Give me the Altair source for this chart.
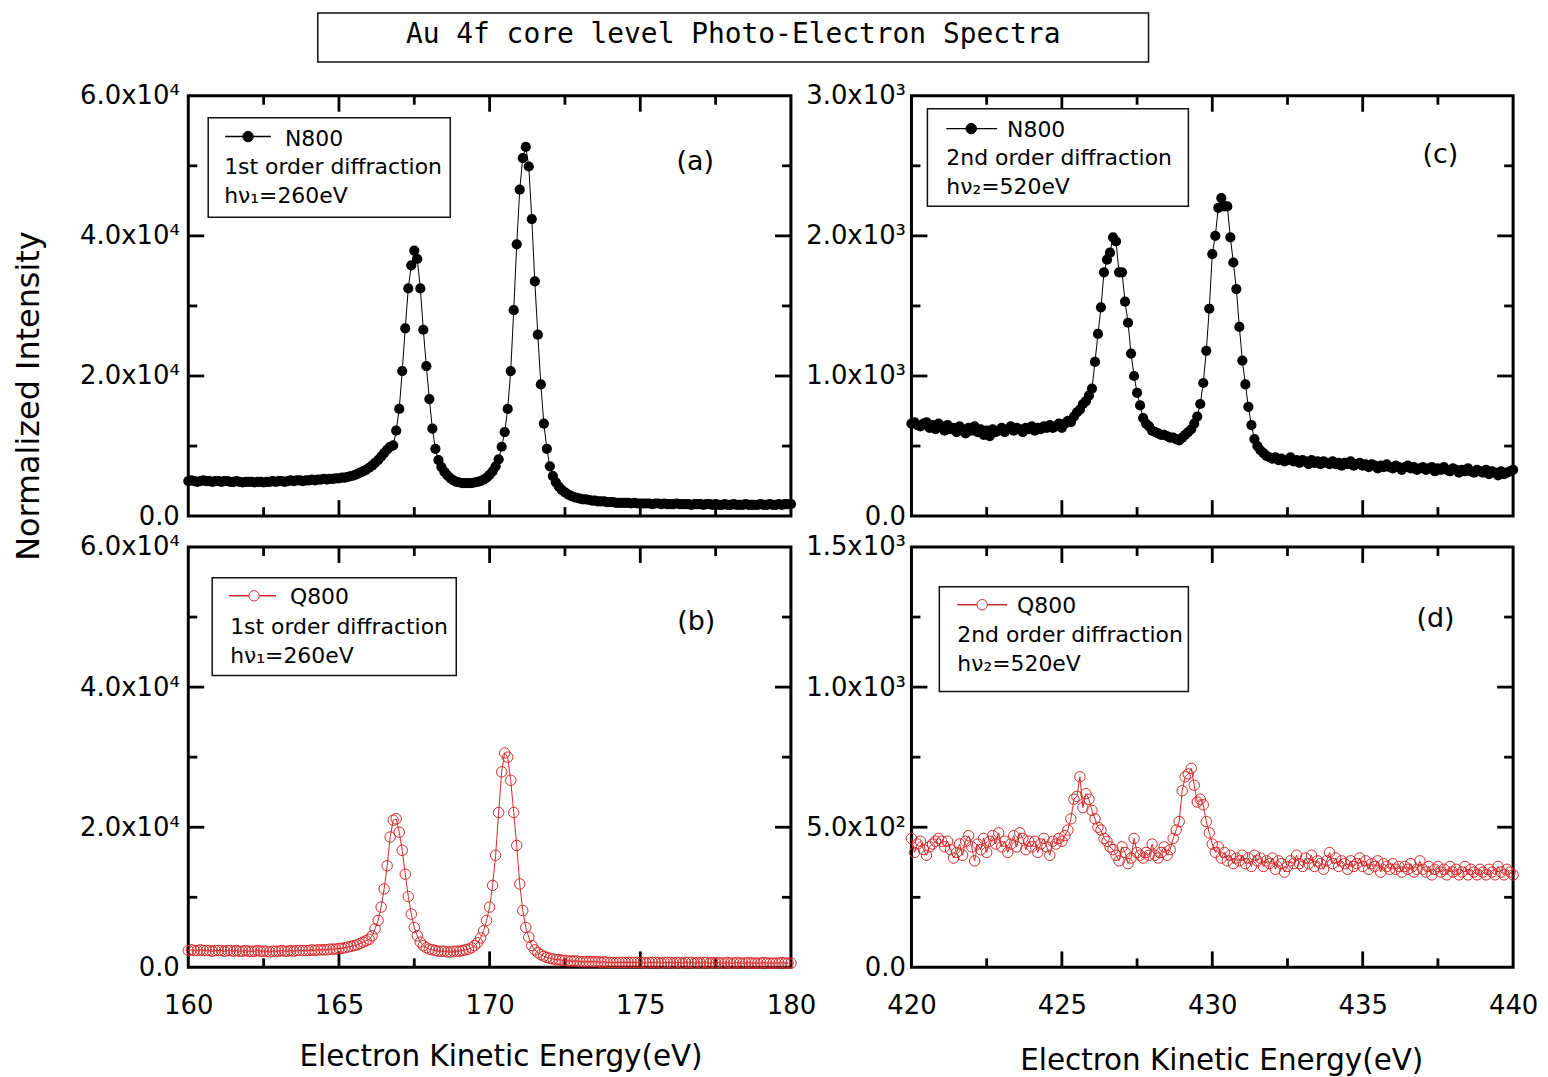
import altair as alt
import pandas as pd

FONT = "DejaVu Sans"
TITLE_FONT = "DejaVu Sans Mono"
RED = "#d42a2a"

# Energy grids of the scans (0.1 eV steps)
E_1ST = [round(160 + 0.1 * i, 1) for i in range(201)]
E_2ND = [round(420 + 0.1 * i, 1) for i in range(201)]

# Intensities, in units of 10^3
N800_1ST = [
    5.0, 5.1, 5.0, 4.9, 5.0, 5.1, 5.0, 5.0, 4.9, 5.0,
    5.0, 4.9, 5.0, 5.0, 4.9, 4.9, 5.0, 4.9, 4.8, 4.9,
    4.9, 4.9, 4.8, 4.9, 4.9, 4.8, 4.9, 4.9, 5.0, 4.9,
    5.0, 5.0, 4.9, 5.0, 5.1, 5.0, 5.1, 5.1, 5.0, 5.1,
    5.1, 5.2, 5.1, 5.2, 5.2, 5.3, 5.2, 5.3, 5.3, 5.4,
    5.4, 5.5, 5.5, 5.6, 5.7, 5.8, 6.0, 6.2, 6.4, 6.6,
    6.9, 7.2, 7.6, 8.0, 8.5, 9.0, 9.5, 9.9, 10.1, 12.2,
    15.3, 20.7, 26.8, 32.5, 35.8, 37.9, 36.7, 32.5, 26.6, 21.4,
    16.7, 12.5, 9.6, 8.0, 7.0, 6.3, 5.8, 5.4, 5.1, 4.9,
    4.8, 4.7, 4.7, 4.7, 4.7, 4.8, 4.9, 5.0, 5.2, 5.5,
    5.9, 6.4, 7.1, 8.1, 9.9, 12.0, 15.3, 20.7, 29.4, 38.8,
    46.6, 51.1, 52.7, 49.9, 42.4, 33.5, 25.9, 18.8, 13.2, 9.6,
    7.1, 5.7, 4.8, 4.2, 3.7, 3.4, 3.1, 2.9, 2.7, 2.6,
    2.5, 2.4, 2.4, 2.3, 2.2, 2.2, 2.1, 2.1, 2.1, 2.0,
    2.0, 2.0, 1.9, 1.9, 1.9, 1.9, 1.9, 1.8, 1.9, 1.8,
    1.8, 1.8, 1.8, 1.8, 1.7, 1.8, 1.8, 1.7, 1.8, 1.7,
    1.7, 1.7, 1.8, 1.7, 1.7, 1.7, 1.7, 1.6, 1.7, 1.7,
    1.7, 1.6, 1.7, 1.7, 1.6, 1.7, 1.6, 1.6, 1.7, 1.6,
    1.6, 1.7, 1.6, 1.6, 1.6, 1.7, 1.6, 1.6, 1.6, 1.6,
    1.7, 1.6, 1.6, 1.7, 1.6, 1.6, 1.7, 1.6, 1.7, 1.7,
    1.7,
]

Q800_1ST = [
    2.4, 2.5, 2.4, 2.4, 2.5, 2.4, 2.4, 2.4, 2.3, 2.4,
    2.4, 2.4, 2.3, 2.4, 2.4, 2.3, 2.4, 2.3, 2.3, 2.4,
    2.3, 2.3, 2.3, 2.4, 2.3, 2.3, 2.3, 2.2, 2.3, 2.3,
    2.3, 2.4, 2.3, 2.3, 2.4, 2.3, 2.4, 2.4, 2.4, 2.4,
    2.4, 2.5, 2.4, 2.5, 2.5, 2.5, 2.5, 2.6, 2.6, 2.6,
    2.7, 2.7, 2.8, 2.9, 3.0, 3.1, 3.2, 3.4, 3.6, 3.8,
    4.0, 4.5, 5.5, 6.7, 8.6, 11.2, 14.5, 18.6, 21.0, 21.2,
    19.3, 16.7, 13.3, 10.1, 7.6, 5.7, 4.5, 3.6, 3.1, 2.8,
    2.6, 2.5, 2.4, 2.3, 2.3, 2.3, 2.2, 2.2, 2.3, 2.3,
    2.3, 2.4, 2.5, 2.6, 2.8, 3.1, 3.5, 4.2, 5.2, 6.7,
    8.6, 11.7, 16.0, 22.1, 27.9, 30.6, 30.0, 26.7, 22.1, 17.4,
    11.9, 8.1, 5.7, 4.3, 3.1, 2.5, 2.1, 1.8, 1.6, 1.4,
    1.3, 1.2, 1.1, 1.1, 1.0, 1.0, 0.9, 0.9, 0.9, 0.9,
    0.8, 0.8, 0.8, 0.8, 0.8, 0.8, 0.8, 0.7, 0.8, 0.7,
    0.7, 0.7, 0.7, 0.7, 0.7, 0.7, 0.7, 0.7, 0.7, 0.7,
    0.7, 0.7, 0.6, 0.7, 0.7, 0.7, 0.7, 0.6, 0.7, 0.7,
    0.7, 0.6, 0.7, 0.7, 0.6, 0.7, 0.7, 0.7, 0.6, 0.7,
    0.6, 0.7, 0.7, 0.6, 0.7, 0.6, 0.7, 0.6, 0.6, 0.7,
    0.6, 0.6, 0.7, 0.6, 0.6, 0.6, 0.7, 0.6, 0.6, 0.6,
    0.6, 0.7, 0.6, 0.6, 0.6, 0.6, 0.6, 0.7, 0.6, 0.6,
    0.6,
]

N800_2ND = [
    0.66, 0.67, 0.65, 0.64, 0.66, 0.67, 0.63, 0.65, 0.62, 0.66,
    0.64, 0.61, 0.65, 0.62, 0.63, 0.60, 0.64, 0.62, 0.59, 0.63,
    0.61, 0.64, 0.60, 0.62, 0.58, 0.61, 0.57, 0.62, 0.60, 0.61,
    0.63, 0.60, 0.62, 0.64, 0.61, 0.63, 0.62, 0.60, 0.63, 0.62,
    0.64, 0.61, 0.63, 0.62, 0.64, 0.63, 0.65, 0.63, 0.64, 0.66,
    0.63, 0.66, 0.68, 0.67, 0.71, 0.74, 0.76, 0.80, 0.82, 0.86,
    0.91, 1.10, 1.30, 1.49, 1.74, 1.83, 1.88, 1.99, 1.96, 1.74,
    1.74, 1.53, 1.38, 1.16, 1.00, 0.88, 0.79, 0.70, 0.66, 0.64,
    0.61, 0.60, 0.59, 0.58, 0.58, 0.57, 0.56, 0.56, 0.55, 0.54,
    0.56, 0.58, 0.60, 0.62, 0.66, 0.71, 0.80, 0.95, 1.18, 1.48,
    1.87, 2.00, 2.20, 2.27, 2.21, 2.21, 1.99, 1.81, 1.62, 1.35,
    1.11, 0.94, 0.78, 0.65, 0.55, 0.50, 0.47, 0.45, 0.43, 0.42,
    0.41, 0.42, 0.40, 0.41, 0.39, 0.40, 0.42, 0.39, 0.40, 0.38,
    0.40, 0.39, 0.37, 0.40, 0.38, 0.39, 0.37, 0.39, 0.38, 0.37,
    0.39, 0.37, 0.38, 0.36, 0.38, 0.37, 0.39, 0.36, 0.37, 0.38,
    0.36, 0.37, 0.35, 0.37, 0.36, 0.34, 0.36, 0.35, 0.37, 0.35,
    0.34, 0.36, 0.35, 0.33, 0.35, 0.36, 0.34, 0.35, 0.33, 0.34,
    0.35, 0.33, 0.34, 0.35, 0.32, 0.34, 0.33, 0.35, 0.33, 0.32,
    0.34, 0.33, 0.31, 0.33, 0.32, 0.34, 0.32, 0.31, 0.33, 0.32,
    0.31, 0.33, 0.30, 0.32, 0.31, 0.29, 0.32, 0.30, 0.31, 0.32,
    0.33,
]

Q800_2ND = [
    0.46, 0.41, 0.44, 0.45, 0.42, 0.40, 0.43, 0.44, 0.45, 0.46,
    0.45, 0.43, 0.45, 0.42, 0.39, 0.41, 0.44, 0.40, 0.45, 0.47,
    0.43, 0.38, 0.44, 0.42, 0.46, 0.41, 0.45, 0.47, 0.44, 0.48,
    0.43, 0.45, 0.41, 0.44, 0.47, 0.43, 0.48, 0.46, 0.42, 0.45,
    0.43, 0.45, 0.41, 0.44, 0.46, 0.43, 0.40, 0.45, 0.44, 0.46,
    0.45, 0.47, 0.49, 0.53, 0.60, 0.61, 0.68, 0.57, 0.62, 0.60,
    0.56, 0.53, 0.50, 0.49, 0.46, 0.45, 0.43, 0.42, 0.40, 0.38,
    0.43, 0.41, 0.37, 0.39, 0.46, 0.41, 0.40, 0.39, 0.41, 0.40,
    0.44, 0.40, 0.39, 0.41, 0.43, 0.40, 0.42, 0.46, 0.49, 0.52,
    0.63, 0.68, 0.69, 0.71, 0.65, 0.59, 0.60, 0.58, 0.52, 0.48,
    0.44, 0.41, 0.43, 0.39, 0.41, 0.38, 0.40, 0.37, 0.39, 0.38,
    0.40, 0.37, 0.39, 0.36, 0.40, 0.38, 0.39, 0.36, 0.38, 0.37,
    0.39, 0.35, 0.38, 0.37, 0.34, 0.36, 0.38, 0.37, 0.40, 0.37,
    0.36, 0.39, 0.37, 0.40, 0.36, 0.38, 0.37, 0.35, 0.38, 0.41,
    0.37, 0.39, 0.36, 0.38, 0.37, 0.35, 0.38, 0.36, 0.37, 0.39,
    0.36, 0.38, 0.35, 0.37, 0.36, 0.38, 0.34, 0.37, 0.36, 0.35,
    0.37, 0.35, 0.36, 0.34, 0.36, 0.35, 0.37, 0.34, 0.35, 0.38,
    0.35, 0.34, 0.36, 0.33, 0.35, 0.36, 0.34, 0.35, 0.33, 0.36,
    0.34, 0.35, 0.33, 0.34, 0.36, 0.33, 0.35, 0.34, 0.33, 0.35,
    0.34, 0.33, 0.35, 0.34, 0.33, 0.36, 0.34, 0.33, 0.35, 0.34,
    0.33,
]

# Axis tick values
X1_LABELS = [160, 165, 170, 175, 180]
X1_MAJOR = [165, 170, 175]
X1_MINOR = [162.5, 167.5, 172.5, 177.5]
X2_LABELS = [420, 425, 430, 435, 440]
X2_MAJOR = [425, 430, 435]
X2_MINOR = [422.5, 427.5, 432.5, 437.5]

YA_LABELS = [0, 20000, 40000, 60000]
YA_MAJOR = [20000, 40000]
YA_MINOR = [10000, 30000, 50000]
YC_LABELS = [0, 1000, 2000, 3000]
YC_MAJOR = [1000, 2000]
YC_MINOR = [500, 1500, 2500]
YD_LABELS = [0, 500, 1000, 1500]
YD_MAJOR = [500, 1000]
YD_MINOR = [250, 750, 1250]

EXPR_E4 = "datum.value == 0 ? '0.0' : format(datum.value / 10000, '.1f') + 'x10⁴'"
EXPR_E3 = "datum.value == 0 ? '0.0' : format(datum.value / 1000, '.1f') + 'x10³'"
EXPR_D = ("datum.value == 0 ? '0.0' : (datum.value < 1000 ? format(datum.value / 100, '.1f') + 'x10²'"
          " : format(datum.value / 1000, '.1f') + 'x10³')")

H = 422
W_LEFT, W_RIGHT = 605, 604
MAJ, MIN = 16, 9

ONE = pd.DataFrame({"k": [0]})


def txt(s, x, y, size=22, align="left", font=FONT):
    return alt.Chart(ONE).mark_text(
        text=s, font=font, fontSize=size, align=align, baseline="alphabetic", color="black"
    ).encode(x=alt.value(x), y=alt.value(y))


def box(x1, x2, y1, y2):
    return alt.Chart(ONE).mark_rect(fill="white", stroke="#111111", strokeWidth=1.5).encode(
        x=alt.value(x1), x2=alt.value(x2), y=alt.value(y1), y2=alt.value(y2)
    )


def symbol(x1, x2, xc, y, filled):
    c = "black" if filled else RED
    seg = alt.Chart(ONE).mark_rule(color=c, strokeWidth=1.5).encode(
        x=alt.value(x1), x2=alt.value(x2), y=alt.value(y)
    )
    dot = alt.Chart(ONE).mark_point(
        shape="circle", filled=True, fill=c if filled else "white", stroke=c,
        strokeWidth=1, size=110, opacity=1
    ).encode(x=alt.value(xc), y=alt.value(y))
    return [seg, dot]


def x_axis(labels, title_x=None, title_y=None):
    if labels is None:
        return alt.Axis(labels=False, ticks=False, domain=False, grid=False, title=None)
    return alt.Axis(
        values=labels, format="d", ticks=False, tickSize=0, domain=False, grid=False,
        labelFont=FONT, labelFontSize=26, labelColor="black", labelPadding=25,
        labelFlush=False, labelOverlap=False,
        title="Electron Kinetic Energy(eV)", titleFont=FONT, titleFontSize=29.5,
        titleFontWeight="normal", titleColor="black", titleX=title_x, titleY=title_y,
        titleAlign="center", titleBaseline="alphabetic", titleAngle=0,
    )


def y_axis(values, expr, pad, with_title=False):
    kw = dict(
        values=values, labelExpr=expr, ticks=False, tickSize=0, domain=False, grid=False,
        labelFont=FONT, labelFontSize=26, labelColor="black", labelPadding=pad,
        labelFlush=False, labelOverlap=False,
    )
    if with_title:
        kw.update(
            title="Normalized Intensity", titleFont=FONT, titleFontSize=32,
            titleFontWeight="normal", titleColor="black", titleX=-150.6, titleY=301,
            titleAngle=270, titleAlign="center", titleBaseline="alphabetic",
        )
    else:
        kw["title"] = None
    return alt.Axis(**kw)


def panel(E, I, xdom, ydom, xmaj, xmin, ymaj, ymin, width, xaxis, yaxis, filled, extras):
    df = pd.DataFrame({"E": E, "I": [v * 1000 for v in I]})
    xs = alt.Scale(domain=xdom, nice=False, zero=False)
    ys = alt.Scale(domain=ydom, nice=False, zero=False)

    def X():
        return alt.X("E:Q", scale=xs, axis=xaxis)

    def Y():
        return alt.Y("I:Q", scale=ys, axis=yaxis)

    color = "black" if filled else RED
    layers = []
    rule = dict(color="black", strokeWidth=2.8)
    for vals, L in ((xmaj, MAJ), (xmin, MIN)):
        d = pd.DataFrame({"E": vals})
        layers.append(alt.Chart(d).mark_rule(**rule).encode(x=X(), y=alt.value(0), y2=alt.value(L)))
        layers.append(alt.Chart(d).mark_rule(**rule).encode(x=X(), y=alt.value(H), y2=alt.value(H - L)))
    for vals, L in ((ymaj, MAJ), (ymin, MIN)):
        d = pd.DataFrame({"I": vals})
        layers.append(alt.Chart(d).mark_rule(**rule).encode(y=Y(), x=alt.value(0), x2=alt.value(L)))
        layers.append(alt.Chart(d).mark_rule(**rule).encode(y=Y(), x=alt.value(width), x2=alt.value(width - L)))

    layers.append(alt.Chart(df).mark_line(color=color, strokeWidth=1).encode(x=X(), y=Y()))
    if filled:
        layers.append(alt.Chart(df).mark_point(
            shape="circle", filled=True, color="black", size=105, opacity=1
        ).encode(x=X(), y=Y()))
    else:
        layers.append(alt.Chart(df).mark_point(
            shape="circle", filled=False, color=RED, size=110, strokeWidth=1, opacity=1
        ).encode(x=X(), y=Y()))
    layers += extras
    return alt.layer(*layers).properties(width=width, height=H)


extras_a = [
    box(130, 964, -83, -34),
    txt("Au 4f core level Photo-Electron Spectra", 547, -53, size=28, align="center", font=TITLE_FONT),
    box(20, 263, 22, 122),
    *symbol(37, 83, 60, 41, True),
    txt("N800", 97, 50),
    txt("1st order diffraction", 36, 79),
    txt("hν₁=260eV", 36, 108),
    txt("(a)", 509, 75, size=27, align="center"),
]
extras_c = [
    box(16, 278, 13, 111),
    *symbol(35, 86, 60, 33, True),
    txt("N800", 96, 41),
    txt("2nd order diffraction", 35, 70),
    txt("hν₂=520eV", 35, 99),
    txt("(c)", 531, 68, size=27, align="center"),
]
extras_b = [
    box(24, 269, 31, 129),
    *symbol(41, 88, 66, 49, False),
    txt("Q800", 102, 57),
    txt("1st order diffraction", 42, 87),
    txt("hν₁=260eV", 42, 116),
    txt("(b)", 510, 83, size=27, align="center"),
]
extras_d = [
    box(28, 278, 40, 145),
    *symbol(46, 96, 71, 58, False),
    txt("Q800", 106, 66),
    txt("2nd order diffraction", 46, 95),
    txt("hν₂=520eV", 46, 124),
    txt("(d)", 526, 80, size=27, align="center"),
]

pa = panel(E_1ST, N800_1ST, [160, 180], [0, 60000], X1_MAJOR, X1_MINOR, YA_MAJOR, YA_MINOR,
           W_LEFT, x_axis(None), y_axis(YA_LABELS, EXPR_E4, 9, with_title=True), True, extras_a)
pb = panel(E_1ST, Q800_1ST, [160, 180], [0, 60000], X1_MAJOR, X1_MINOR, YA_MAJOR, YA_MINOR,
           W_LEFT, x_axis(X1_LABELS, 313.5, 99), y_axis(YA_LABELS, EXPR_E4, 9), False, extras_b)
pc = panel(E_2ND, N800_2ND, [420, 440], [0, 3000], X2_MAJOR, X2_MINOR, YC_MAJOR, YC_MINOR,
           W_RIGHT, x_axis(None), y_axis(YC_LABELS, EXPR_E3, 6), True, extras_c)
pd_ = panel(E_2ND, Q800_2ND, [420, 440], [0, 1500], X2_MAJOR, X2_MINOR, YD_MAJOR, YD_MINOR,
            W_RIGHT, x_axis(X2_LABELS, 311, 103), y_axis(YD_LABELS, EXPR_D, 6), False, extras_d)

chart = alt.concat(
    pa, pc, pb, pd_, columns=2, spacing={"row": 31, "column": 121}, bounds="flush"
).properties(
    padding={"left": 2, "top": 0, "right": 0, "bottom": 0}
).configure_view(stroke="black", strokeWidth=3)

chart.save("out.html", embed_options={"renderer": "svg", "actions": False})
